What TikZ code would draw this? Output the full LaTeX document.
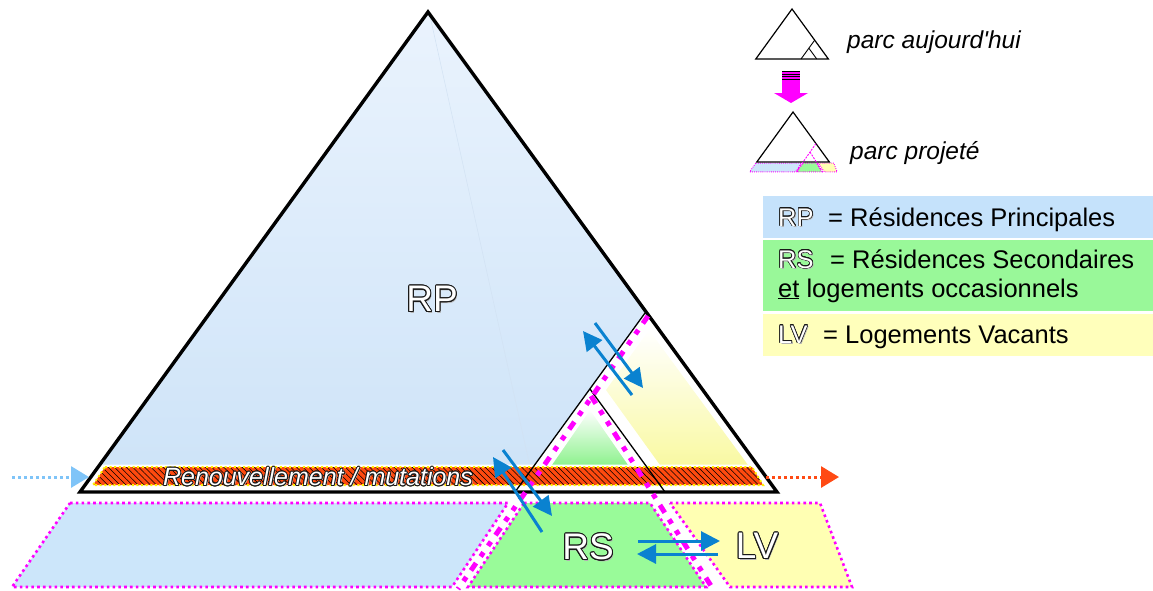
\documentclass[tikz,border=0pt]{standalone}
\usepackage{fontspec}
\setmainfont{Liberation Sans}
\usetikzlibrary{calc,arrows.meta,patterns.meta}

\definecolor{rptop}{HTML}{EAF3FD}
\definecolor{rpbottom}{HTML}{CDE3F8}
\definecolor{rsgrad}{HTML}{8EF28E}
\definecolor{lvgrad}{HTML}{F9F9A2}
\definecolor{rpzone}{HTML}{CCE6FA}
\definecolor{rszone}{HTML}{99FB99}
\definecolor{lvzone}{HTML}{FFFFB3}
\definecolor{legblue}{HTML}{C5E2FB}
\definecolor{leggreen}{HTML}{99F899}
\definecolor{legyellow}{HTML}{FFFFBB}
\definecolor{bandred}{HTML}{FF4A0F}
\definecolor{bandedge}{HTML}{FFF200}
\definecolor{magentaline}{HTML}{FF00FF}
\definecolor{flowblue}{HTML}{0A82D0}
\definecolor{inblue}{HTML}{7FC4F8}
\definecolor{outred}{HTML}{FF4A14}
\definecolor{seam}{HTML}{D2E2F3}

% white lettering with a dark rim and a soft grey shadow
\newcommand\hollow[5][0.75]{%
  \coordinate (#2) at #3;
  \node[#4, text=black!30] (#2-s) at ($(#2)+(1.3,1.3)$) {#5};
  \foreach \k in {0,...,15}{%
    \node[#4, text=black!90] (#2-o\k) at ($(#2)+(\k*22.5:#1)$) {#5};}
  \node[#4, text=white] (#2-t) at (#2) {#5};
}

\begin{document}
\begin{tikzpicture}[x=1pt,y=-1pt,
  edgebold/.style={line width=3.4pt, line join=miter},
  edgethin/.style={line width=1.3pt},
  zone/.style={line width=2.6pt, color=magentaline, dash pattern=on 2.6pt off 3.2pt},
  zonesmall/.style={line width=0.9pt, color=magentaline, dash pattern=on 0.9pt off 1.2pt},
  divide/.style={line width=5pt, color=magentaline, dash pattern=on 9pt off 8pt on 5pt off 8pt on 5pt off 8pt},
  dividesmall/.style={line width=0.9pt, color=magentaline, dash pattern=on 2pt off 1.2pt},
  flow/.style={line width=3pt, color=flowblue, -{Triangle[length=19pt,width=19pt]}},
  inflow/.style={line width=3pt, color=#1, dash pattern=on 3pt off 3pt, -{Triangle[length=18pt,width=21pt]}},
  bigabbr/.style={inner sep=0pt, font=\fontsize{37}{40}\selectfont},
  legabbr/.style={inner sep=0pt, font=\fontsize{25.5}{28}\selectfont},
  legtext/.style={inner sep=0pt, font=\fontsize{25.5}{28}\selectfont},
  legital/.style={inner sep=0pt, font=\fontsize{24.5}{28}\selectfont\itshape},
]
\useasboundingbox (0,0) rectangle (1153,590);

% ---------- main pyramid ----------
\coordinate (apex) at (428,12);
\coordinate (bl) at (80,492);
\coordinate (br) at (777,492);
\coordinate (subtop) at (645,313);
\coordinate (subbl) at (515,492);
\coordinate (smtop) at (590,389);
\coordinate (smbr) at (665,492);

% principal residences
\shade[top color=rptop, bottom color=rpbottom] (apex) -- (subtop) -- (subbl) -- (bl) -- cycle;
\draw[seam, line width=0.5pt] (430,16) -- (529,462);

% vacant dwellings and secondary residences
\shade[top color=white, bottom color=lvgrad] (649,330) -- (748,465) -- (660,465) -- (606,390) -- cycle;
\shade[top color=white, bottom color=rsgrad] (590,410) -- (628,465) -- (552,465) -- cycle;

% renewal band
\fill[white] (100,464.5) -- (757,464.5) -- (777,492) -- (80,492) -- cycle;
\path[preaction={fill=bandred}, pattern={Lines[angle=-45,distance=4.3pt,line width=0.55pt]}, pattern color=black]
  (105,467) -- (752,467) -- (763,485) -- (93,485) -- cycle;
\draw[line width=2pt, bandedge, dash pattern=on 2pt off 2.6pt]
  (105,467) -- (752,467) -- (763,485) -- (93,485) -- cycle;

% inner boundaries
\draw[edgethin] (subtop) -- (subbl);
\draw[edgethin] (smtop) -- (smbr);
\draw[edgebold] (apex) -- (br) -- (bl) -- cycle;

% ---------- projected stock ----------
\draw[zone, fill=rpzone] (70,503) -- (508,503) -- (452,587) -- (12,587) -- cycle;
\draw[zone, fill=rszone] (524,503) -- (650,503) -- (706,587) -- (468,587) -- cycle;
\draw[zone, fill=lvzone] (670,503) -- (820,503) -- (852,587) -- (730,587) -- cycle;

\coordinate (dl1) at (648,316);
\coordinate (dl2) at (458,589);
\coordinate (dr1) at (591,396);
\coordinate (dr2) at (713,589);
\draw[divide] (dl1) -- (dl2);
\draw[divide] (dr1) -- (dr2);

% ---------- exchanges ----------
\coordinate (a1s) at (632,395); \coordinate (a1e) at (583,331);
\coordinate (a2s) at (595,323); \coordinate (a2e) at (643,388);
\coordinate (a3s) at (542,532); \coordinate (a3e) at (493,457);
\coordinate (a4s) at (503,450); \coordinate (a4e) at (552,516);
\coordinate (a5s) at (638,541); \coordinate (a5e) at (720,541);
\coordinate (a6s) at (718,554); \coordinate (a6e) at (637,554);
\draw[flow] (a1s) -- (a1e);
\draw[flow] (a2s) -- (a2e);
\draw[flow] (a3s) -- (a3e);
\draw[flow] (a4s) -- (a4e);
\draw[flow] (a5s) -- (a5e);
\draw[flow] (a6s) -- (a6e);

\coordinate (ins) at (12,477); \coordinate (ine) at (89,477);
\coordinate (outs) at (766,477); \coordinate (oute) at (839,477);
\draw[inflow=inblue] (ins) -- (ine);
\draw[inflow=outred] (outs) -- (oute);

% ---------- labels ----------
\hollow[1.0]{rp}{(432,299)}{bigabbr}{RP}
\hollow[1.0]{rs}{(588,547)}{bigabbr}{RS}
\hollow[1.0]{lv}{(757,546)}{bigabbr}{LV}
\hollow[0.7]{renew}{(318,485.5)}{inner sep=0pt, anchor=base, font=\fontsize{25}{28}\selectfont\itshape}{Renouvellement / mutations}

% ---------- key: current stock ----------
\begin{scope}[shift={(747.5,7.75)}, scale=0.104]
  \draw[line width=1.2pt, line join=miter] (428,12) -- (777,492) -- (80,492) -- cycle;
  \draw[line width=0.9pt] (645,313) -- (515,492);
  \draw[line width=0.9pt] (590,389) -- (665,492);
\end{scope}
\node[legital, anchor=base west] (today) at (847,48) {parc aujourd\textquotesingle hui};

% ---------- key: arrow ----------
\fill[magentaline] (782,71) rectangle (800,94);
\fill[magentaline] (774,93) -- (808,93) -- (791,103) -- cycle;
\foreach \yy in {71.5,74,76.5,79}
  \draw[line width=0.7pt] (782,\yy) -- (800,\yy);

% ---------- key: projected stock ----------
\begin{scope}[shift={(748.5,110.75)}, scale=0.104]
  \draw[zonesmall, fill=rpzone] (70,503) -- (508,503) -- (452,587) -- (12,587) -- cycle;
  \draw[zonesmall, fill=rszone] (524,503) -- (650,503) -- (706,587) -- (468,587) -- cycle;
  \draw[zonesmall, fill=lvzone] (670,503) -- (820,503) -- (852,587) -- (730,587) -- cycle;
  \draw[line width=1.2pt, line join=miter] (428,12) -- (777,492) -- (80,492) -- cycle;
  \draw[dividesmall] (648,316) -- (458,589);
  \draw[dividesmall] (591,396) -- (713,589);
\end{scope}
\node[legital, anchor=base west] (future) at (850,159) {parc projeté};

% ---------- key: categories ----------
\fill[legblue] (763,196) rectangle (1153,238);
\fill[leggreen] (763,239.5) rectangle (1153,311);
\fill[legyellow] (763,314) rectangle (1153,356);

\hollow[0.6]{krp}{(778,226)}{legabbr, anchor=base west}{RP}
\node[legtext, anchor=base west] (drp) at (828,226) {= Résidences Principales};
\hollow[0.6]{krs}{(778,268)}{legabbr, anchor=base west}{RS}
\node[legtext, anchor=base west] (drs) at (830,268) {= Résidences Secondaires};
\node[legtext, anchor=base west] (drs2) at (778,297) {\underline{et} logements occasionnels};
\hollow[0.6]{klv}{(778,343)}{legabbr, anchor=base west}{LV}
\node[legtext, anchor=base west] (dlv) at (823,343) {= Logements Vacants};
\end{tikzpicture}
\end{document}
